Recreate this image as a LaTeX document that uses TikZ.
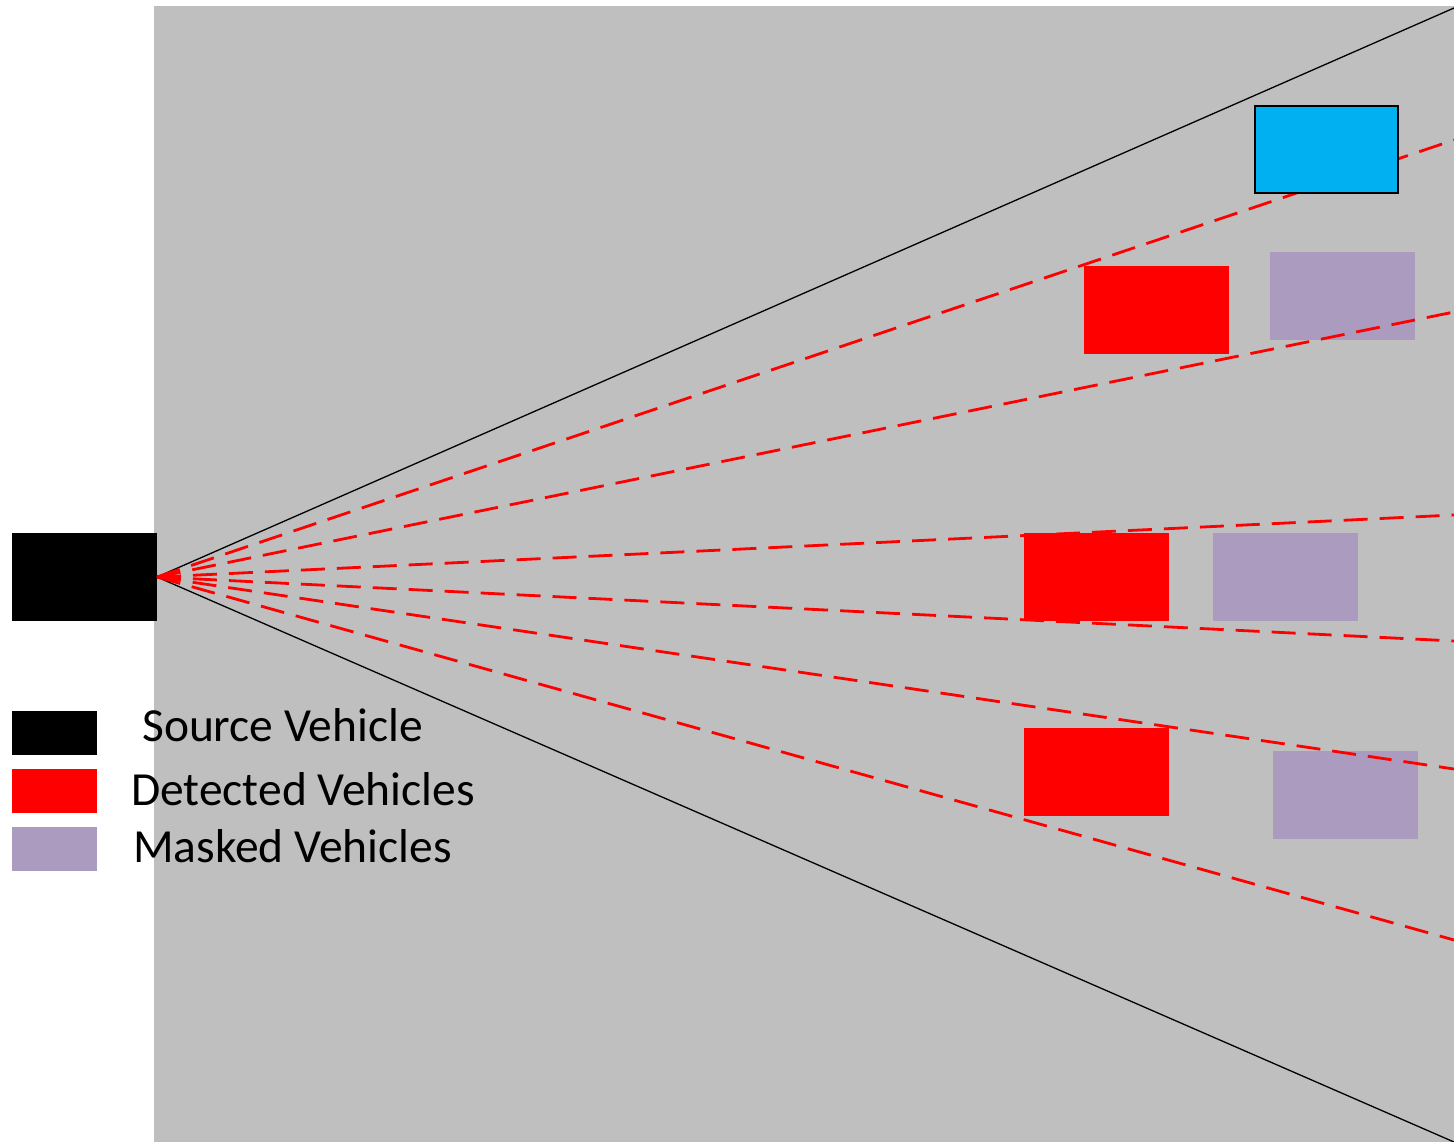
\documentclass[tikz,border=0pt]{standalone}
\usepackage{fontspec}
\setmainfont{Carlito}
\definecolor{bggray}{RGB}{191,191,191}
\definecolor{maskc}{RGB}{170,155,191}
\definecolor{bluec}{RGB}{0,176,240}
\begin{document}
\begin{tikzpicture}[x=1pt,y=-1pt,
  veh/.style={rectangle,inner sep=0pt,outer sep=0pt,minimum width=145pt,minimum height=88pt},
  srcveh/.style={veh,fill=black},
  detveh/.style={veh,fill=red},
  maskveh/.style={veh,fill=maskc},
  tgtveh/.style={veh,fill=bluec,draw=black,line width=1.5pt,minimum width=143pt,minimum height=87pt},
  legbox/.style={rectangle,inner sep=0pt,outer sep=0pt,minimum width=85pt,minimum height=44pt},
  legtext/.style={anchor=base west,inner sep=0pt,font=\fontsize{47.5}{54}\selectfont},
  fov/.style={black,line width=1.3pt},
  ray/.style={red,line width=2.8pt,dash pattern=on 24pt off 12pt}]
\useasboundingbox (0,0) rectangle (1454,1142);
\fill[bggray] (154,6) rectangle (1454,1142);
% masked vehicles (under rays)
\node[maskveh] (m1) at (1342.5,296) {};
\node[maskveh] (m2) at (1285,577) {};
\node[maskveh] (m3) at (1345,795) {};
% source vehicle
\node[srcveh] (src) at (84.5,577) {};
\coordinate (apex) at (157,577);
% field-of-view borders
\coordinate (fovT) at (1454,8);
\coordinate (fovB) at (1454,1142);
\draw[fov] (apex) -- (fovT);
\draw[fov] (apex) -- (fovB);
% rays
\coordinate (r1) at (1454,140);
\coordinate (r2) at (1454,312);
\coordinate (r3) at (1454,515);
\coordinate (r4) at (1454,641);
\coordinate (r5) at (1454,769);
\coordinate (r6) at (1454,940);
\foreach \r in {r1,r2,r3,r4,r5,r6} \draw[ray] (apex) -- (\r);
% detected vehicles and target
\node[tgtveh] (tgt) at (1326.5,149.5) {};
\node[detveh] (d1) at (1156.5,310) {};
\node[detveh] (d2) at (1096,577) {};
\node[detveh] (d3) at (1096,772) {};
% legend
\node[legbox,fill=black] (lb1) at (54.5,733) {};
\node[legbox,fill=red] (lb2) at (54.5,791) {};
\node[legbox,fill=maskc] (lb3) at (54.5,849) {};
\node[legtext] (lt1) at (142,741) {Source Vehicle};
\node[legtext] (lt2) at (131,805) {Detected Vehicles};
\node[legtext] (lt3) at (133,862) {Masked Vehicles};
\end{tikzpicture}
\end{document}
